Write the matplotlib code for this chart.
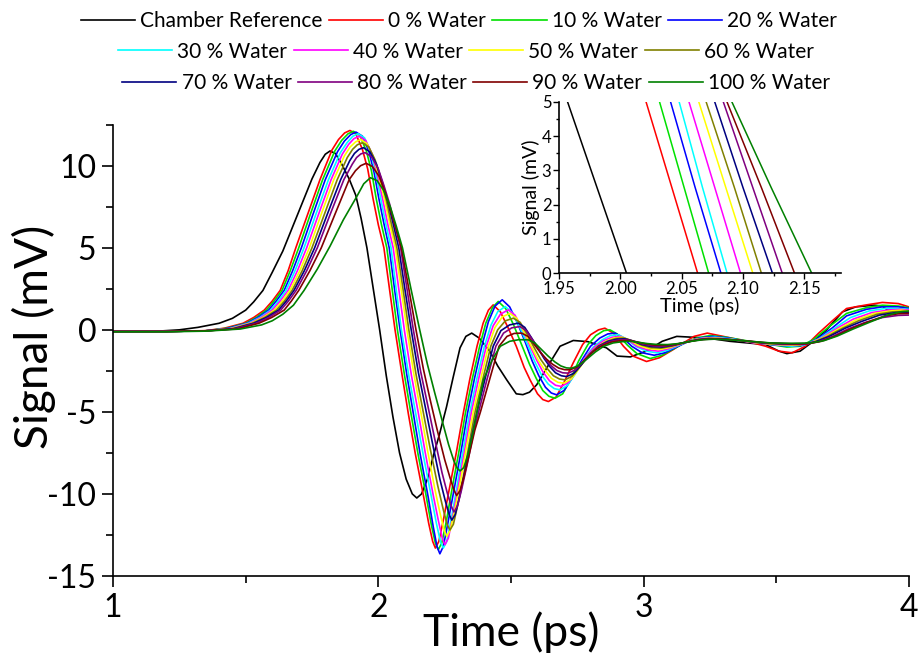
import matplotlib
matplotlib.use("Agg")
import matplotlib.pyplot as plt
from matplotlib.ticker import MultipleLocator

# (time ps, signal mV)
chamber_ref = [(1.00, -0.1), (1.15, -0.1), (1.25, 0.0), (1.32, 0.15), (1.40, 0.4), (1.45, 0.7), (1.50, 1.2),
               (1.53, 1.7), (1.565, 2.4), (1.60, 3.5), (1.64, 4.8), (1.70, 7.2), (1.75, 9.2), (1.78, 10.2),
               (1.80, 10.7), (1.818, 10.9), (1.838, 10.75), (1.862, 10.1), (1.89, 9.2), (1.915, 8.2),
               (1.935, 6.8), (1.957, 5.0), (1.98, 2.6), (2.005, 0.0), (2.03, -2.8), (2.055, -5.3),
               (2.08, -7.5), (2.105, -9.1), (2.128, -10.0), (2.145, -10.25), (2.163, -10.0), (2.185, -9.1),
               (2.207, -7.7), (2.23, -6.4), (2.257, -4.7), (2.282, -2.9), (2.308, -1.1), (2.33, -0.4),
               (2.352, -0.2), (2.38, -0.5), (2.42, -1.3), (2.45, -2.2), (2.484, -3.05), (2.52, -3.9),
               (2.545, -3.95), (2.57, -3.8), (2.597, -3.35), (2.647, -2.0), (2.685, -1.0), (2.735, -0.65),
               (2.79, -0.72), (2.86, -1.1), (2.90, -1.6), (2.95, -1.65), (3.01, -1.3), (3.07, -0.7),
               (3.125, -0.4), (3.24, -0.5), (3.325, -0.7), (3.46, -0.9), (3.51, -1.3), (3.54, -1.45),
               (3.59, -1.3), (3.64, -0.7), (3.69, 0.0), (3.75, 1.1), (3.80, 1.4), (3.87, 1.5), (3.90, 1.45),
               (3.92, 1.2), (4.00, 1.2)]

water_0 = [(1.00, -0.1), (1.20, -0.1), (1.35, -0.05), (1.42, 0.1), (1.49, 0.4), (1.53, 0.75), (1.57, 1.2),
           (1.60, 1.75), (1.63, 2.4), (1.66, 3.6), (1.689, 5.0), (1.735, 7.1), (1.78, 9.15), (1.825, 10.95),
           (1.85, 11.6), (1.873, 12.0), (1.893, 12.15), (1.915, 11.95), (1.94, 11.0), (1.96, 9.8), (1.98, 8.0),
           (2.00, 6.4), (2.021, 5.0), (2.042, 2.5), (2.063, 0.0), (2.09, -2.8), (2.113, -5.1), (2.14, -7.6),
           (2.17, -10.1), (2.19, -11.8), (2.205, -12.9), (2.215, -13.3), (2.228, -12.9), (2.245, -11.6),
           (2.27, -9.5), (2.295, -7.4), (2.32, -5.1), (2.345, -3.0), (2.372, -1.0), (2.395, 0.4), (2.415, 1.2),
           (2.433, 1.52), (2.46, 1.1), (2.49, 0.1), (2.52, -1.0), (2.55, -2.3), (2.572, -3.05), (2.60, -3.9),
           (2.62, -4.25), (2.641, -4.37), (2.67, -4.1), (2.70, -3.2), (2.735, -2.0), (2.77, -0.9), (2.80, -0.3),
           (2.83, 0.0), (2.854, 0.1), (2.886, -0.2), (2.924, -1.0), (2.96, -1.6), (3.011, -1.93), (3.06, -1.7),
           (3.11, -1.22), (3.15, -0.8), (3.19, -0.4), (3.24, -0.2), (3.30, -0.4), (3.39, -0.7), (3.46, -1.0),
           (3.51, -1.3), (3.56, -1.4), (3.61, -1.0), (3.66, -0.2), (3.715, 0.6), (3.765, 1.3), (3.84, 1.52),
           (3.90, 1.67), (3.96, 1.6), (4.00, 1.4)]

water_10 = [(1.00, -0.1), (1.20, -0.1), (1.35, -0.06), (1.43, 0.1), (1.50, 0.4), (1.54, 0.75), (1.578, 1.2),
            (1.607, 1.75), (1.637, 2.4), (1.668, 3.6), (1.70, 5.0), (1.745, 7.1), (1.79, 9.15), (1.836, 10.9),
            (1.862, 11.55), (1.886, 11.95), (1.906, 12.1), (1.93, 11.85), (1.955, 10.9), (1.974, 9.7),
            (1.992, 8.0), (2.012, 6.4), (2.032, 5.0), (2.052, 2.5), (2.072, 0.0), (2.099, -2.8), (2.123, -5.1),
            (2.15, -7.6), (2.18, -10.1), (2.20, -11.9), (2.215, -13.0), (2.226, -13.4), (2.239, -13.0),
            (2.256, -11.7), (2.28, -9.5), (2.304, -7.4), (2.328, -5.1), (2.354, -3.0), (2.382, -1.0),
            (2.405, 0.4), (2.43, 1.35), (2.452, 1.73), (2.48, 1.3), (2.51, 0.3), (2.54, -0.9), (2.57, -2.1),
            (2.595, -2.95), (2.62, -3.7), (2.643, -4.05), (2.666, -4.17), (2.695, -3.9), (2.725, -3.0),
            (2.755, -1.9), (2.79, -0.9), (2.82, -0.35), (2.85, -0.05), (2.873, 0.0), (2.90, -0.25),
            (2.94, -0.95), (2.975, -1.45), (3.025, -1.75), (3.07, -1.55), (3.12, -1.1), (3.16, -0.75),
            (3.20, -0.5), (3.25, -0.35), (3.31, -0.45), (3.40, -0.7), (3.48, -0.9), (3.54, -1.05), (3.59, -1.0),
            (3.64, -0.6), (3.70, 0.2), (3.765, 1.0), (3.84, 1.35), (3.90, 1.5), (3.96, 1.45), (4.00, 1.35)]

water_20 = [(1.00, -0.1), (1.20, -0.1), (1.35, -0.06), (1.43, 0.08), (1.505, 0.4), (1.546, 0.75), (1.586, 1.2),
            (1.615, 1.75), (1.645, 2.4), (1.677, 3.6), (1.71, 5.0), (1.755, 7.1), (1.80, 9.15), (1.846, 10.85),
            (1.872, 11.5), (1.896, 11.9), (1.916, 12.05), (1.94, 11.8), (1.964, 10.9), (1.984, 9.6),
            (2.002, 8.0), (2.022, 6.4), (2.041, 5.0), (2.061, 2.5), (2.082, 0.0), (2.108, -2.8), (2.132, -5.1),
            (2.158, -7.6), (2.188, -10.2), (2.207, -12.0), (2.221, -13.2), (2.232, -13.65), (2.245, -13.2),
            (2.262, -11.8), (2.287, -9.6), (2.312, -7.4), (2.336, -5.1), (2.362, -3.0), (2.39, -1.0),
            (2.415, 0.5), (2.44, 1.45), (2.467, 1.83), (2.495, 1.4), (2.525, 0.4), (2.555, -0.8), (2.58, -1.9),
            (2.605, -2.8), (2.63, -3.5), (2.652, -3.85), (2.672, -3.96), (2.70, -3.7), (2.73, -2.95),
            (2.765, -1.9), (2.80, -1.0), (2.835, -0.5), (2.865, -0.25), (2.892, -0.2), (2.92, -0.45),
            (2.955, -1.0), (2.995, -1.4), (3.04, -1.55), (3.08, -1.4), (3.13, -1.0), (3.17, -0.7), (3.21, -0.5),
            (3.26, -0.4), (3.32, -0.5), (3.40, -0.75), (3.48, -0.9), (3.55, -1.0), (3.60, -0.95), (3.65, -0.6),
            (3.71, 0.1), (3.765, 0.85), (3.84, 1.25), (3.90, 1.4), (3.96, 1.4), (4.00, 1.3)]

water_30 = [(1.00, -0.1), (1.20, -0.1), (1.35, -0.06), (1.44, 0.08), (1.51, 0.4), (1.553, 0.75), (1.594, 1.2),
            (1.623, 1.75), (1.652, 2.4), (1.686, 3.6), (1.72, 5.0), (1.766, 7.1), (1.812, 9.15), (1.857, 10.8),
            (1.882, 11.4), (1.904, 11.8), (1.924, 11.95), (1.948, 11.7), (1.972, 10.8), (1.991, 9.5),
            (2.009, 8.0), (2.029, 6.4), (2.048, 5.0), (2.067, 2.5), (2.087, 0.0), (2.115, -2.8), (2.141, -5.1),
            (2.169, -7.6), (2.199, -10.1), (2.219, -11.8), (2.234, -12.9), (2.245, -13.3), (2.258, -12.9),
            (2.274, -11.6), (2.297, -9.5), (2.32, -7.3), (2.344, -5.1), (2.371, -3.0), (2.40, -1.0),
            (2.425, 0.3), (2.45, 1.1), (2.478, 1.42), (2.505, 1.05), (2.535, 0.1), (2.565, -1.0), (2.59, -1.95),
            (2.615, -2.75), (2.64, -3.3), (2.663, -3.58), (2.685, -3.66), (2.712, -3.4), (2.742, -2.7),
            (2.775, -1.8), (2.81, -1.05), (2.845, -0.6), (2.875, -0.35), (2.905, -0.3), (2.935, -0.55),
            (2.97, -1.0), (3.01, -1.3), (3.05, -1.4), (3.09, -1.25), (3.14, -0.9), (3.18, -0.65), (3.22, -0.5),
            (3.27, -0.45), (3.33, -0.55), (3.41, -0.75), (3.49, -0.9), (3.56, -1.0), (3.61, -0.9), (3.66, -0.55),
            (3.72, 0.1), (3.78, 0.75), (3.85, 1.15), (3.91, 1.3), (3.96, 1.3), (4.00, 1.25)]

water_40 = [(1.00, -0.1), (1.20, -0.1), (1.35, -0.06), (1.44, 0.07), (1.515, 0.4), (1.558, 0.75), (1.60, 1.2),
            (1.63, 1.75), (1.66, 2.4), (1.695, 3.6), (1.73, 5.0), (1.776, 7.1), (1.822, 9.15), (1.864, 10.7),
            (1.888, 11.3), (1.908, 11.65), (1.928, 11.8), (1.952, 11.55), (1.977, 10.7), (1.997, 9.4),
            (2.016, 8.0), (2.036, 6.4), (2.056, 5.0), (2.077, 2.5), (2.098, 0.0), (2.125, -2.8), (2.15, -5.0),
            (2.177, -7.5), (2.206, -10.0), (2.226, -11.6), (2.241, -12.7), (2.251, -13.1), (2.264, -12.7),
            (2.28, -11.4), (2.303, -9.4), (2.327, -7.2), (2.351, -5.0), (2.378, -3.0), (2.407, -1.0),
            (2.433, 0.25), (2.46, 0.95), (2.49, 1.22), (2.515, 0.9), (2.545, 0.0), (2.572, -1.0), (2.597, -1.85),
            (2.62, -2.55), (2.645, -3.1), (2.668, -3.38), (2.69, -3.45), (2.717, -3.2), (2.748, -2.5),
            (2.78, -1.7), (2.815, -1.05), (2.85, -0.65), (2.882, -0.45), (2.912, -0.4), (2.94, -0.6),
            (2.975, -1.0), (3.015, -1.22), (3.055, -1.3), (3.095, -1.15), (3.145, -0.85), (3.19, -0.6),
            (3.23, -0.5), (3.28, -0.5), (3.34, -0.6), (3.42, -0.8), (3.50, -0.9), (3.57, -0.95), (3.62, -0.85),
            (3.67, -0.5), (3.73, 0.1), (3.79, 0.65), (3.86, 1.05), (3.92, 1.2), (3.97, 1.25), (4.00, 1.2)]

water_50 = [(1.00, -0.1), (1.20, -0.1), (1.35, -0.06), (1.445, 0.07), (1.52, 0.4), (1.565, 0.75), (1.608, 1.2),
            (1.638, 1.75), (1.667, 2.4), (1.704, 3.6), (1.74, 5.0), (1.786, 7.1), (1.832, 9.15), (1.872, 10.6),
            (1.894, 11.15), (1.914, 11.45), (1.933, 11.6), (1.957, 11.35), (1.982, 10.5), (2.003, 9.3),
            (2.024, 7.9), (2.044, 6.4), (2.064, 5.0), (2.086, 2.5), (2.108, 0.0), (2.134, -2.7), (2.159, -4.9),
            (2.185, -7.3), (2.213, -9.7), (2.233, -11.2), (2.248, -12.2), (2.258, -12.6), (2.271, -12.2),
            (2.288, -11.0), (2.311, -9.1), (2.334, -7.0), (2.358, -5.0), (2.386, -3.0), (2.415, -1.0),
            (2.44, 0.15), (2.468, 0.8), (2.496, 1.0), (2.522, 0.7), (2.55, -0.15), (2.578, -1.05),
            (2.603, -1.85), (2.627, -2.45), (2.652, -2.95), (2.677, -3.2), (2.70, -3.25), (2.727, -3.0),
            (2.757, -2.35), (2.79, -1.6), (2.823, -1.05), (2.857, -0.7), (2.888, -0.5), (2.918, -0.45),
            (2.948, -0.62), (2.98, -0.95), (3.02, -1.15), (3.06, -1.2), (3.10, -1.07), (3.15, -0.8),
            (3.195, -0.6), (3.235, -0.52), (3.285, -0.52), (3.35, -0.62), (3.43, -0.8), (3.51, -0.9),
            (3.58, -0.92), (3.63, -0.8), (3.68, -0.45), (3.74, 0.1), (3.80, 0.6), (3.87, 1.0), (3.93, 1.15),
            (3.97, 1.2), (4.00, 1.15)]

water_60 = [(1.00, -0.1), (1.20, -0.1), (1.35, -0.06), (1.45, 0.07), (1.525, 0.4), (1.571, 0.75), (1.616, 1.2),
            (1.646, 1.75), (1.675, 2.4), (1.713, 3.6), (1.75, 5.0), (1.798, 7.1), (1.845, 9.15), (1.883, 10.5),
            (1.903, 11.0), (1.921, 11.28), (1.94, 11.4), (1.964, 11.15), (1.988, 10.35), (2.009, 9.2),
            (2.03, 7.9), (2.05, 6.4), (2.07, 5.0), (2.093, 2.5), (2.115, 0.0), (2.142, -2.7), (2.168, -4.9),
            (2.195, -7.2), (2.224, -9.5), (2.244, -10.9), (2.259, -11.85), (2.27, -12.2), (2.283, -11.85),
            (2.299, -10.7), (2.321, -8.9), (2.343, -6.9), (2.365, -5.0), (2.394, -3.0), (2.424, -1.0),
            (2.45, 0.0), (2.479, 0.55), (2.509, 0.71), (2.535, 0.45), (2.562, -0.3), (2.588, -1.1),
            (2.612, -1.8), (2.636, -2.35), (2.66, -2.8), (2.683, -3.0), (2.704, -3.05), (2.731, -2.82),
            (2.762, -2.2), (2.795, -1.5), (2.828, -1.0), (2.862, -0.7), (2.895, -0.53), (2.925, -0.5),
            (2.955, -0.65), (2.99, -0.92), (3.025, -1.08), (3.065, -1.12), (3.105, -1.0), (3.155, -0.78),
            (3.20, -0.6), (3.24, -0.53), (3.29, -0.54), (3.36, -0.64), (3.44, -0.8), (3.52, -0.88), (3.59, -0.9),
            (3.64, -0.76), (3.69, -0.42), (3.75, 0.1), (3.81, 0.55), (3.88, 0.95), (3.94, 1.1), (3.98, 1.12),
            (4.00, 1.1)]

water_70 = [(1.00, -0.1), (1.20, -0.1), (1.35, -0.06), (1.455, 0.07), (1.53, 0.4), (1.578, 0.75), (1.624, 1.2),
            (1.653, 1.75), (1.682, 2.4), (1.721, 3.6), (1.76, 5.0), (1.809, 7.1), (1.858, 9.15), (1.892, 10.3),
            (1.91, 10.75), (1.927, 11.0), (1.944, 11.1), (1.968, 10.85), (1.993, 10.1), (2.015, 9.0),
            (2.036, 7.8), (2.057, 6.4), (2.077, 5.0), (2.10, 2.5), (2.124, 0.0), (2.151, -2.6), (2.177, -4.7),
            (2.204, -6.9), (2.232, -9.1), (2.252, -10.4), (2.267, -11.25), (2.277, -11.6), (2.29, -11.25),
            (2.306, -10.2), (2.328, -8.5), (2.35, -6.7), (2.372, -5.0), (2.402, -3.0), (2.433, -1.0),
            (2.462, -0.05), (2.495, 0.3), (2.528, 0.41), (2.552, 0.15), (2.578, -0.5), (2.603, -1.15),
            (2.625, -1.75), (2.647, -2.25), (2.668, -2.62), (2.69, -2.8), (2.71, -2.85), (2.737, -2.65),
            (2.767, -2.1), (2.80, -1.45), (2.833, -0.98), (2.867, -0.7), (2.90, -0.57), (2.93, -0.55),
            (2.96, -0.68), (2.995, -0.9), (3.03, -1.02), (3.07, -1.05), (3.11, -0.95), (3.16, -0.75),
            (3.205, -0.6), (3.245, -0.54), (3.295, -0.56), (3.37, -0.66), (3.45, -0.8), (3.53, -0.86),
            (3.60, -0.88), (3.65, -0.72), (3.70, -0.4), (3.76, 0.1), (3.82, 0.5), (3.89, 0.9), (3.95, 1.05),
            (3.98, 1.07), (4.00, 1.05)]

water_80 = [(1.00, -0.1), (1.20, -0.1), (1.35, -0.06), (1.46, 0.06), (1.54, 0.4), (1.587, 0.75), (1.632, 1.2),
            (1.661, 1.75), (1.69, 2.4), (1.73, 3.6), (1.77, 5.0), (1.82, 7.1), (1.87, 9.15), (1.902, 10.1),
            (1.918, 10.5), (1.934, 10.72), (1.95, 10.8), (1.974, 10.55), (1.999, 9.85), (2.021, 8.8),
            (2.042, 7.7), (2.063, 6.35), (2.084, 5.0), (2.108, 2.5), (2.132, 0.0), (2.159, -2.5), (2.185, -4.5),
            (2.212, -6.6), (2.24, -8.7), (2.26, -9.95), (2.275, -10.75), (2.285, -11.1), (2.298, -10.75),
            (2.313, -9.8), (2.335, -8.2), (2.356, -6.5), (2.378, -5.0), (2.41, -3.0), (2.443, -1.0),
            (2.472, -0.2), (2.503, 0.12), (2.534, 0.2), (2.558, -0.05), (2.583, -0.65), (2.607, -1.25),
            (2.629, -1.75), (2.651, -2.18), (2.673, -2.48), (2.695, -2.62), (2.716, -2.64), (2.742, -2.45),
            (2.772, -1.95), (2.805, -1.38), (2.838, -0.97), (2.872, -0.72), (2.905, -0.62), (2.935, -0.6),
            (2.965, -0.7), (3.00, -0.88), (3.037, -0.98), (3.075, -1.0), (3.115, -0.92), (3.165, -0.74),
            (3.21, -0.6), (3.25, -0.55), (3.30, -0.57), (3.38, -0.67), (3.46, -0.8), (3.54, -0.86),
            (3.61, -0.87), (3.66, -0.72), (3.71, -0.42), (3.77, 0.05), (3.83, 0.42), (3.90, 0.75), (3.96, 0.88),
            (4.00, 0.9)]

water_90 = [(1.00, -0.1), (1.20, -0.1), (1.35, -0.06), (1.47, 0.06), (1.55, 0.4), (1.598, 0.75), (1.645, 1.2),
            (1.672, 1.75), (1.70, 2.4), (1.742, 3.6), (1.785, 5.0), (1.838, 7.1), (1.89, 9.15), (1.914, 9.7),
            (1.933, 10.0), (1.954, 10.15), (1.978, 9.95), (2.003, 9.35), (2.025, 8.4), (2.046, 7.3),
            (2.067, 6.15), (2.087, 5.0), (2.115, 2.5), (2.142, 0.0), (2.17, -2.4), (2.196, -4.3), (2.222, -6.1),
            (2.25, -7.9), (2.27, -9.0), (2.285, -9.75), (2.295, -10.1), (2.308, -9.8), (2.323, -8.95),
            (2.344, -7.5), (2.364, -6.1), (2.385, -5.0), (2.42, -3.0), (2.455, -1.0), (2.485, -0.4),
            (2.512, -0.22), (2.54, -0.2), (2.564, -0.4), (2.588, -0.9), (2.612, -1.4), (2.635, -1.8),
            (2.657, -2.1), (2.68, -2.33), (2.702, -2.43), (2.723, -2.44), (2.75, -2.25), (2.78, -1.8),
            (2.812, -1.3), (2.845, -0.95), (2.878, -0.75), (2.91, -0.67), (2.94, -0.65), (2.97, -0.72),
            (3.005, -0.85), (3.042, -0.93), (3.08, -0.95), (3.12, -0.88), (3.17, -0.72), (3.215, -0.6),
            (3.255, -0.56), (3.305, -0.58), (3.39, -0.68), (3.47, -0.8), (3.55, -0.85), (3.62, -0.85),
            (3.67, -0.7), (3.72, -0.4), (3.78, 0.05), (3.84, 0.45), (3.91, 0.85), (3.96, 0.98), (4.00, 1.0)]

water_100 = [(1.00, -0.12), (1.20, -0.12), (1.35, -0.08), (1.48, 0.05), (1.56, 0.3), (1.60, 0.55), (1.64, 0.95),
             (1.68, 1.5), (1.72, 2.4), (1.77, 3.7), (1.818, 5.1), (1.868, 6.7), (1.918, 8.1), (1.945, 8.9),
             (1.97, 9.27), (1.995, 9.1), (2.02, 8.5), (2.045, 7.5), (2.068, 6.3), (2.091, 5.0), (2.123, 2.5),
             (2.156, 0.0), (2.185, -2.1), (2.212, -3.8), (2.24, -5.5), (2.265, -7.0), (2.285, -8.0),
             (2.298, -8.45), (2.308, -8.6), (2.322, -8.4), (2.338, -7.6), (2.355, -6.4), (2.372, -5.0),
             (2.396, -3.05), (2.43, -1.8), (2.46, -1.0), (2.495, -0.7), (2.53, -0.6), (2.565, -0.61),
             (2.59, -0.8), (2.615, -1.2), (2.64, -1.6), (2.665, -1.95), (2.688, -2.2), (2.709, -2.32),
             (2.729, -2.34), (2.755, -2.18), (2.785, -1.8), (2.818, -1.35), (2.85, -1.0), (2.885, -0.8),
             (2.92, -0.72), (2.95, -0.7), (2.98, -0.76), (3.015, -0.84), (3.05, -0.89), (3.09, -0.9),
             (3.13, -0.84), (3.18, -0.7), (3.225, -0.6), (3.265, -0.57), (3.315, -0.6), (3.40, -0.7),
             (3.48, -0.8), (3.56, -0.82), (3.63, -0.8), (3.68, -0.66), (3.73, -0.38), (3.79, 0.05), (3.85, 0.45),
             (3.92, 0.9), (3.97, 1.1), (4.00, 1.15)]

labels = ["Chamber Reference", "0 % Water", "10 % Water", "20 % Water", "30 % Water", "40 % Water",
          "50 % Water", "60 % Water", "70 % Water", "80 % Water", "90 % Water", "100 % Water"]
curves = [chamber_ref, water_0, water_10, water_20, water_30, water_40,
          water_50, water_60, water_70, water_80, water_90, water_100]
colors = ["#000000", "#FF0000", "#00E000", "#0000FF", "#00FFFF", "#FF00FF",
          "#FFFF00", "#808000", "#000080", "#800080", "#800000", "#008000"]

plt.rcParams.update({
    "font.family": "Lato",
    "axes.linewidth": 1.2,
    "axes.unicode_minus": False,
})

fig = plt.figure(figsize=(9.19, 6.53), dpi=100)
ax = fig.add_axes([0.123, 0.118, 0.866, 0.691])
axin = fig.add_axes([0.6083, 0.5819, 0.3069, 0.2619])
axin.set_facecolor("none")

handles = []
for label, pts, color in zip(labels, curves, colors):
    t = [p[0] for p in pts]
    v = [p[1] for p in pts]
    line, = ax.plot(t, v, color=color, lw=1.2, label=label)
    axin.plot(t, v, color=color, lw=1.1)
    handles.append(line)

for a in (ax, axin):
    a.spines["top"].set_visible(False)
    a.spines["right"].set_visible(False)

ax.set_xlim(1, 4)
ax.set_ylim(-15, 12.5)
ax.xaxis.set_major_locator(MultipleLocator(1))
ax.xaxis.set_minor_locator(MultipleLocator(0.5))
ax.yaxis.set_major_locator(MultipleLocator(5))
ax.yaxis.set_minor_locator(MultipleLocator(2.5))
ax.tick_params(which="major", direction="out", length=8, width=1.2, labelsize=23, pad=4)
ax.tick_params(which="minor", direction="out", length=5, width=1.2)
ax.set_xlabel("Time (ps)", fontsize=32, labelpad=-8)
ax.set_ylabel("Signal (mV)", fontsize=33)
ax.yaxis.set_label_coords(-0.072, 0.53)

axin.set_xlim(1.95, 2.18)
axin.set_ylim(0, 5)
axin.xaxis.set_major_locator(MultipleLocator(0.05))
axin.xaxis.set_minor_locator(MultipleLocator(0.025))
axin.yaxis.set_major_locator(MultipleLocator(1))
axin.yaxis.set_minor_locator(MultipleLocator(0.5))
axin.xaxis.set_major_formatter(plt.FormatStrFormatter("%.2f"))
axin.tick_params(which="major", direction="out", length=4, width=1.0, labelsize=12, pad=1.5)
axin.tick_params(which="minor", direction="out", length=2.5, width=1.0)
axin.set_xlabel("Time (ps)", fontsize=14.5, labelpad=0)
axin.set_ylabel("Signal (mV)", fontsize=14, labelpad=1)

# legend laid out as three centred rows, like the original
rows = [(handles[0:4], 0.4995, 0.968), (handles[4:8], 0.507, 0.921), (handles[8:12], 0.518, 0.873)]
for hs, xc, yc in rows:
    fig.legend(handles=hs, labels=[h.get_label() for h in hs], loc="center", bbox_to_anchor=(xc, yc),
               ncol=4, frameon=False, fontsize=15, handlelength=2.6, handletextpad=0.25,
               columnspacing=0.3, borderpad=0, borderaxespad=0)

fig.savefig("out.png", dpi=100)
